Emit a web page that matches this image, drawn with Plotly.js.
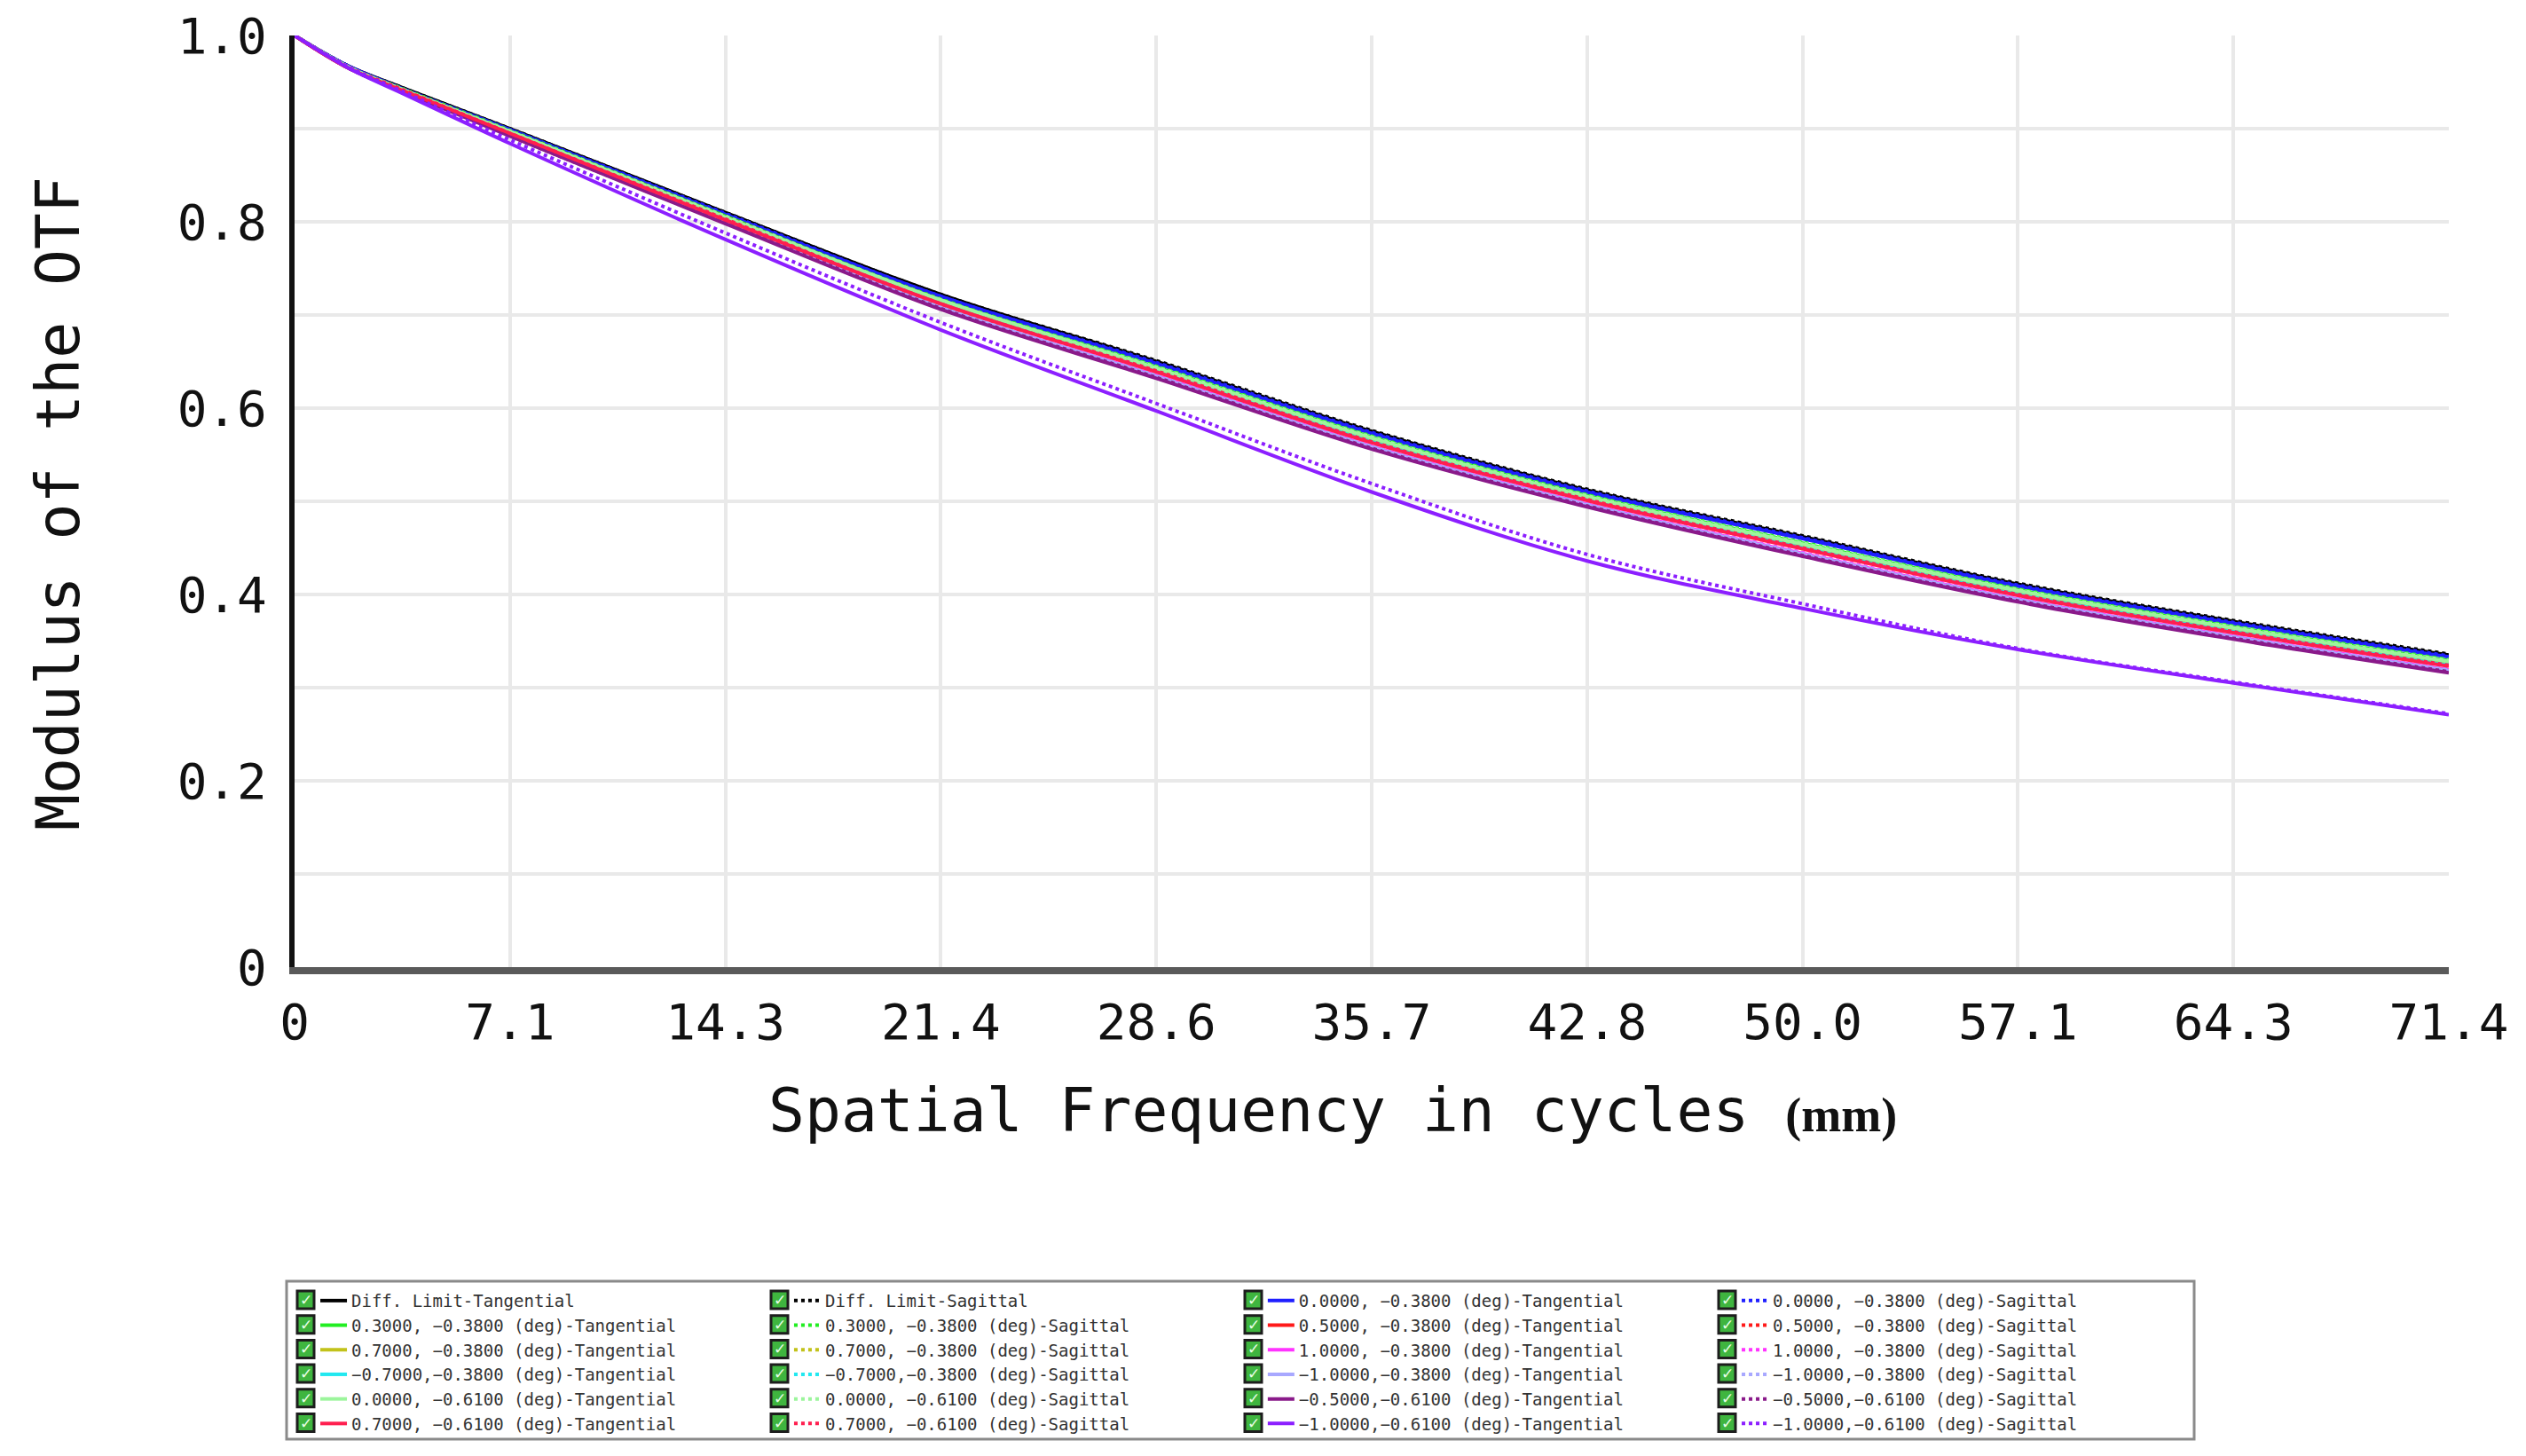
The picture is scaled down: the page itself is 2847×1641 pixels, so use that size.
<!DOCTYPE html>
<html>
<head>
<meta charset="utf-8">
<script src="https://cdn.plot.ly/plotly-3.0.1.min.js"></script>
<style>
  html, body { margin: 0; padding: 0; background: #fff; }
  #plot { width: 2847px; height: 1641px; }
</style>
</head>
<body>
<div id="plot"></div>
<script>
const freq = [0, 1.79, 3.57, 7.14, 14.28, 21.42, 28.56, 35.7, 42.84, 49.98, 57.12, 64.26, 71.4];

// axis ticks
const xTickVals = [0, 7.14, 14.28, 21.42, 28.56, 35.7, 42.84, 49.98, 57.12, 64.26, 71.4];
const xTickText = ['0', '7.1', '14.3', '21.4', '28.6', '35.7', '42.8', '50.0', '57.1', '64.3', '71.4'];
const yTickVals = [0, 0.2, 0.4, 0.6, 0.8, 1.0];
const yTickText = ['0', '0.2', '0.4', '0.6', '0.8', '1.0'];

// MTF values, T = tangential, S = sagittal
const diffT     = [1.000, 0.967, 0.944, 0.900, 0.810, 0.722, 0.650, 0.575, 0.512, 0.462, 0.411, 0.371, 0.335];
const diffS     = [1.000, 0.967, 0.944, 0.900, 0.810, 0.722, 0.651, 0.576, 0.513, 0.463, 0.412, 0.372, 0.336];
const f00_38T   = [1.000, 0.967, 0.943, 0.899, 0.808, 0.720, 0.648, 0.573, 0.510, 0.460, 0.409, 0.369, 0.333];
const f00_38S   = [1.000, 0.967, 0.943, 0.899, 0.809, 0.720, 0.649, 0.574, 0.511, 0.461, 0.410, 0.370, 0.334];
const f03_38T   = [1.000, 0.966, 0.942, 0.897, 0.806, 0.716, 0.644, 0.569, 0.506, 0.455, 0.405, 0.365, 0.329];
const f03_38S   = [1.000, 0.966, 0.943, 0.898, 0.806, 0.717, 0.645, 0.570, 0.507, 0.456, 0.406, 0.366, 0.330];
const f05_38T   = [1.000, 0.966, 0.942, 0.896, 0.805, 0.715, 0.642, 0.567, 0.504, 0.453, 0.403, 0.363, 0.327];
const f05_38S   = [1.000, 0.966, 0.942, 0.897, 0.805, 0.716, 0.643, 0.568, 0.505, 0.454, 0.404, 0.364, 0.328];
const f07_38T   = [1.000, 0.966, 0.942, 0.896, 0.804, 0.714, 0.641, 0.566, 0.503, 0.452, 0.402, 0.362, 0.326];
const f07_38S   = [1.000, 0.966, 0.942, 0.896, 0.805, 0.715, 0.642, 0.567, 0.504, 0.453, 0.403, 0.363, 0.327];
const f10_38T   = [1.000, 0.965, 0.941, 0.893, 0.800, 0.708, 0.635, 0.559, 0.497, 0.444, 0.395, 0.355, 0.319];
const f10_38S   = [1.000, 0.965, 0.941, 0.894, 0.800, 0.709, 0.636, 0.560, 0.498, 0.445, 0.396, 0.356, 0.320];
const fm07_38T  = [1.000, 0.966, 0.942, 0.895, 0.803, 0.712, 0.640, 0.564, 0.502, 0.450, 0.400, 0.360, 0.324];
const fm07_38S  = [1.000, 0.966, 0.942, 0.896, 0.803, 0.713, 0.641, 0.565, 0.503, 0.451, 0.401, 0.361, 0.325];
const fm10_38T  = [1.000, 0.965, 0.940, 0.893, 0.799, 0.708, 0.634, 0.558, 0.496, 0.443, 0.394, 0.354, 0.318];
const fm10_38S  = [1.000, 0.965, 0.941, 0.893, 0.800, 0.708, 0.635, 0.559, 0.497, 0.444, 0.395, 0.355, 0.319];
const f00_61T   = [1.000, 0.966, 0.942, 0.897, 0.805, 0.716, 0.643, 0.568, 0.505, 0.454, 0.404, 0.364, 0.328];
const f00_61S   = [1.000, 0.966, 0.942, 0.897, 0.806, 0.716, 0.644, 0.569, 0.506, 0.455, 0.405, 0.365, 0.329];
const fm05_61T  = [1.000, 0.965, 0.940, 0.892, 0.798, 0.706, 0.632, 0.556, 0.494, 0.441, 0.392, 0.352, 0.316];
const fm05_61S  = [1.000, 0.965, 0.940, 0.892, 0.799, 0.707, 0.633, 0.557, 0.495, 0.442, 0.393, 0.353, 0.317];
const f07_61T   = [1.000, 0.965, 0.941, 0.895, 0.802, 0.712, 0.639, 0.563, 0.501, 0.449, 0.399, 0.359, 0.323];
const f07_61S   = [1.000, 0.966, 0.942, 0.895, 0.803, 0.712, 0.640, 0.564, 0.502, 0.450, 0.400, 0.360, 0.324];
const fm10_61T  = [1.000, 0.965, 0.938, 0.884, 0.781, 0.684, 0.597, 0.510, 0.436, 0.385, 0.341, 0.305, 0.271];
const fm10_61S  = [1.000, 0.966, 0.940, 0.888, 0.788, 0.692, 0.605, 0.519, 0.443, 0.390, 0.342, 0.306, 0.272];

// field labels, colours and the place they take in the legend (row, left or right half)
const fieldNames = ['Diff. Limit', '0.0000, \u22120.3800 (deg)', '0.3000, \u22120.3800 (deg)',
    '0.5000, \u22120.3800 (deg)', '0.7000, \u22120.3800 (deg)', '1.0000, \u22120.3800 (deg)',
    '\u22120.7000,\u22120.3800 (deg)', '\u22121.0000,\u22120.3800 (deg)', '0.0000, \u22120.6100 (deg)',
    '\u22120.5000,\u22120.6100 (deg)', '0.7000, \u22120.6100 (deg)', '\u22121.0000,\u22120.6100 (deg)'];
const fieldColors = ['#000000', '#1f1fff', '#22ee22', '#ff1a1a', '#c2c21a', '#ff33ff',
    '#22e8f0', '#a8a8ff', '#9cf59c', '#8a1a8a', '#ff1f4f', '#8c1fff'];
const fieldTan = [diffT, f00_38T, f03_38T, f05_38T, f07_38T, f10_38T, fm07_38T, fm10_38T, f00_61T, fm05_61T, f07_61T, fm10_61T];
const fieldSag = [diffS, f00_38S, f03_38S, f05_38S, f07_38S, f10_38S, fm07_38S, fm10_38S, f00_61S, fm05_61S, f07_61S, fm10_61S];
const legendRow  = [0, 0, 1, 1, 2, 2, 3, 3, 4, 4, 5, 5];
const legendHalf = [0, 1, 0, 1, 0, 1, 0, 1, 0, 1, 0, 1];
// one plotly legend per column of the legend box
const legendIds = ['legend', 'legend2', 'legend3', 'legend4'];

let traces = [];
for (let i = 0; i < fieldNames.length; i++) {
    // tangential: solid, sagittal: dotted
    traces.push({
        x: freq, y: fieldTan[i], type: 'scatter', mode: 'lines',
        name: fieldNames[i] + '-Tangential',
        line: {color: fieldColors[i], width: 4, shape: 'spline'},
        legend: legendIds[legendHalf[i] * 2],
        legendrank: legendRow[i]
    });
    traces.push({
        x: freq, y: fieldSag[i], type: 'scatter', mode: 'lines',
        name: fieldNames[i] + '-Sagittal',
        line: {color: fieldColors[i], width: 4, dash: 'dot', shape: 'spline'},
        legend: legendIds[legendHalf[i] * 2 + 1],
        legendrank: legendRow[i]
    });
}

const monoFont = 'DejaVu Sans Mono, monospace';

// plot area in page pixels, to place the legend decorations
const plotLeft = 332, plotWidth = 2428, plotBottom = 1090, plotHeight = 1050;
const paperX = px => (px - plotLeft) / plotWidth;
const paperY = py => (plotBottom - py) / plotHeight;

function columnLegend(x) {
    return {
        orientation: 'v',
        x: x,
        y: -0.340,
        xanchor: 'left',
        yanchor: 'top',
        traceorder: 'normal',
        bgcolor: 'rgba(0,0,0,0)',
        borderwidth: 0,
        font: {family: monoFont, size: 19, color: '#333'}
    };
}

// frame round the legend, and the ticked boxes in front of each entry
let shapes = [{
    type: 'rect', xref: 'paper', yref: 'paper',
    x0: paperX(323), x1: paperX(2473), y0: paperY(1622), y1: paperY(1444),
    line: {color: '#8a8a8a', width: 3},
    fillcolor: 'rgba(0,0,0,0)'
}];
let checks = [];
for (let c = 0; c < 4; c++) {
    for (let r = 0; r < 6; r++) {
        let bx = 335 + c * 534;
        let by = 1465 + r * 27.7;
        shapes.push({
            type: 'rect', xref: 'paper', yref: 'paper',
            x0: paperX(bx), x1: paperX(bx + 19), y0: paperY(by + 10), y1: paperY(by - 10),
            line: {color: '#1d1d1d', width: 3},
            fillcolor: '#3fb53f'
        });
        checks.push({
            text: '\u2713', xref: 'paper', yref: 'paper',
            x: paperX(bx + 9.5), y: paperY(by), xanchor: 'center', yanchor: 'middle',
            showarrow: false, font: {family: 'DejaVu Sans', size: 17, color: '#e8ffe8'}
        });
    }
}

let layout = {
    width: 2847,
    height: 1641,
    paper_bgcolor: '#ffffff',
    plot_bgcolor: '#ffffff',
    margin: {l: 332, r: 87, t: 40, b: 551},
    showlegend: true,
    xaxis: {
        range: [0, 71.4],
        tickvals: xTickVals,
        ticktext: xTickText,
        tickfont: {family: monoFont, size: 56, color: '#111'},
        ticks: '',
        ticklabelstandoff: 6,
        showgrid: true,
        gridcolor: '#e9e9e9',
        gridwidth: 4,
        zeroline: false,
        showline: true,
        linecolor: '#5a5a5a',
        linewidth: 8
    },
    yaxis: {
        range: [0, 1],
        tickvals: yTickVals,
        ticktext: yTickText,
        tickfont: {family: monoFont, size: 56, color: '#111'},
        ticks: '',
        ticklabelstandoff: 14,
        showgrid: true,
        gridcolor: '#e9e9e9',
        gridwidth: 4,
        minor: {tickvals: [0.1, 0.3, 0.5, 0.7, 0.9], showgrid: true, gridcolor: '#e9e9e9', gridwidth: 4},
        zeroline: false,
        showline: true,
        linecolor: '#111',
        linewidth: 6
    },
    legend: columnLegend(0.0099),
    legend2: columnLegend(0.2298),
    legend3: columnLegend(0.4497),
    legend4: columnLegend(0.6697),
    shapes: shapes,
    annotations: [
        {
            text: 'Spatial Frequency in cycles <b><span style="font-family:\'Liberation Serif\', serif; font-size:54px">(mm)</span></b>',
            xref: 'paper', yref: 'paper', x: 0.482, y: -0.154,
            xanchor: 'center', yanchor: 'middle', showarrow: false,
            font: {family: monoFont, size: 68, color: '#111'}
        },
        {
            text: 'Modulus of the OTF',
            xref: 'paper', yref: 'paper', x: -0.110, y: 0.498,
            xanchor: 'center', yanchor: 'middle', showarrow: false, textangle: -90,
            font: {family: monoFont, size: 68, color: '#111'}
        }
    ].concat(checks)
};

Plotly.newPlot('plot', traces, layout, {staticPlot: true});
</script>
</body>
</html>
